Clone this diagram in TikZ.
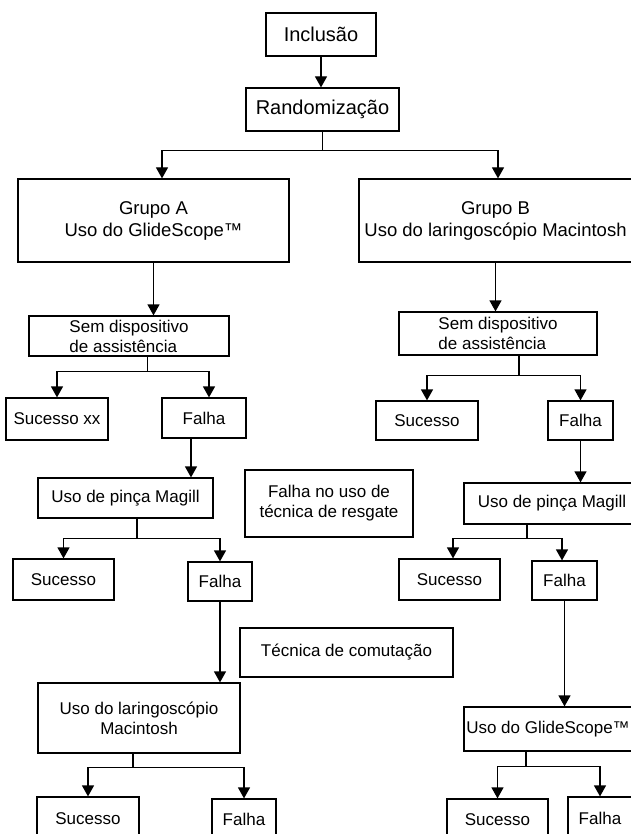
\documentclass[tikz,border=0pt]{standalone}
\usepackage{fontspec}
\setmainfont{Liberation Sans}
\usetikzlibrary{arrows.meta}

\begin{document}
\begin{tikzpicture}[x=1pt, y=-1pt,
    box/.style = {draw, rectangle, line width=1.2pt, inner sep=0pt, align=center, font=\fontsize{17}{20}\selectfont},
    big/.style = {font=\fontsize{20}{24}\selectfont},
    grp/.style = {font=\fontsize{18.5}{22}\selectfont},
    arr/.style = {-{Triangle[width=12pt,length=11pt]}, line width=1.2pt},
    lin/.style = {line width=1.2pt}]
    \useasboundingbox (0,0) rectangle (630,834);
    % top
    \node[box, big, minimum width=110pt, minimum height=43pt] (incl) at (321,34.5) {Inclusão};
    \node[box, big, minimum width=153pt, minimum height=43pt] (rand) at (322.5,109.5) {Randomização};
    \node[box, grp, minimum width=271pt, minimum height=83pt] (grpA) at (153.5,220.5) {Grupo A\\Uso do GlideScope™};
    \node[box, grp, minimum width=273pt, minimum height=83pt] (grpB) at (495.5,220.5) {Grupo B\\Uso do laringoscópio Macintosh};
    % group A
    \node[box, align=left, minimum width=200pt, minimum height=40pt] (semA) at (129,336) {Sem dispositivo\\de assistência};
    \node[box, minimum width=102pt, minimum height=42pt] (sA1) at (57,419) {Sucesso xx};
    \node[box, minimum width=84pt, minimum height=40pt] (fA1) at (204,418) {Falha};
    \node[box, minimum width=175pt, minimum height=40pt] (pA) at (125.5,498) {Uso de pinça Magill};
    \node[box, minimum width=101pt, minimum height=41pt] (sA2) at (63.5,579.5) {Sucesso};
    \node[box, minimum width=64pt, minimum height=39pt] (fA2) at (220,581.5) {Falha};
    \node[box, minimum width=202pt, minimum height=70pt] (macA) at (139,718) {Uso do laringoscópio\\Macintosh};
    \node[box, minimum width=102pt, minimum height=43pt] (sA3) at (88,818.5) {Sucesso};
    \node[box, minimum width=64pt, minimum height=41pt] (fA3) at (244,819.5) {Falha};
    % middle
    \node[box, minimum width=168pt, minimum height=67pt] (resg) at (329,503.5) {Falha no uso de\\técnica de resgate};
    \node[box, minimum width=213pt, minimum height=49pt] (comut) at (346.5,652.5) {Técnica de comutação};
    % group B
    \node[box, align=left, minimum width=198pt, minimum height=43pt] (semB) at (498,333.5) {Sem dispositivo\\de assistência};
    \node[box, minimum width=102pt, minimum height=39pt] (sB1) at (427,420.5) {Sucesso};
    \node[box, minimum width=65pt, minimum height=39pt] (fB1) at (580.5,420.5) {Falha};
    \node[box, minimum width=176pt, minimum height=41pt] (pB) at (552,503.5) {Uso de pinça Magill};
    \node[box, minimum width=101pt, minimum height=41pt] (sB2) at (449.5,579.5) {Sucesso};
    \node[box, minimum width=65pt, minimum height=39pt] (fB2) at (564.5,580.5) {Falha};
    \node[box, minimum width=168pt, minimum height=44pt] (glB) at (548,729) {Uso do GlideScope™};
    \node[box, minimum width=101pt, minimum height=41pt] (sB3) at (497.5,819.5) {Sucesso};
    \node[box, minimum width=64pt, minimum height=43pt] (fB3) at (600,818.5) {Falha};
    % junctions
    \coordinate (jR) at ([yshift=-19pt]rand.south);
    \coordinate (jA1) at ([xshift=18.5pt, yshift=-15pt]semA.south);
    \coordinate (jA2) at ([xshift=11.5pt, yshift=-20pt]pA.south);
    \coordinate (jA3) at ([xshift=-6pt, yshift=-14pt]macA.south);
    \coordinate (jB1) at ([xshift=21pt, yshift=-20pt]semB.south);
    \coordinate (jB2) at ([xshift=-25pt, yshift=-14pt]pB.south);
    \coordinate (jB3) at ([xshift=-22pt, yshift=-15pt]glB.south);
    % connectors
    \draw[arr] (incl.south) -- (incl.south |- rand.north);
    \draw[lin] (rand.south) -- (jR);
    \draw[arr] (jR) -| ([xshift=8.5pt]grpA.north);
    \draw[arr] (jR) -| ([xshift=2.5pt]grpB.north);
    \draw[arr] (grpA.south) -- (grpA.south |- semA.north);
    \draw[arr] (grpB.south) -- (grpB.south |- semB.north);
    \draw[lin] (jA1 |- semA.south) -- (jA1);
    \draw[arr] (jA1) -| (sA1);
    \draw[arr] (jA1) -| ([xshift=5pt]fA1.north);
    \draw[arr] ([xshift=-13pt]fA1.south) -- ([xshift=-13pt]fA1.south |- pA.north);
    \draw[lin] (jA2 |- pA.south) -- (jA2);
    \draw[arr] (jA2) -| (sA2);
    \draw[arr] (jA2) -| (fA2);
    \draw[arr] (fA2.south) -- (fA2.south |- macA.north);
    \draw[lin] (jA3 |- macA.south) -- (jA3);
    \draw[arr] (jA3) -| (sA3);
    \draw[arr] (jA3) -| (fA3);
    \draw[lin] (jB1 |- semB.south) -- (jB1);
    \draw[arr] (jB1) -| (sB1);
    \draw[arr] (jB1) -| (fB1);
    \draw[arr] (fB1.south) -- (fB1.south |- pB.north);
    \draw[lin] (jB2 |- pB.south) -- (jB2);
    \draw[arr] (jB2) -| ([xshift=3.5pt]sB2.north);
    \draw[arr] (jB2) -| ([xshift=-2.5pt]fB2.north);
    \draw[arr] (fB2.south) -- (fB2.south |- glB.north);
    \draw[lin] (jB3 |- glB.south) -- (jB3);
    \draw[arr] (jB3) -| (sB3);
    \draw[arr] (jB3) -| (fB3);
\end{tikzpicture}
\end{document}
